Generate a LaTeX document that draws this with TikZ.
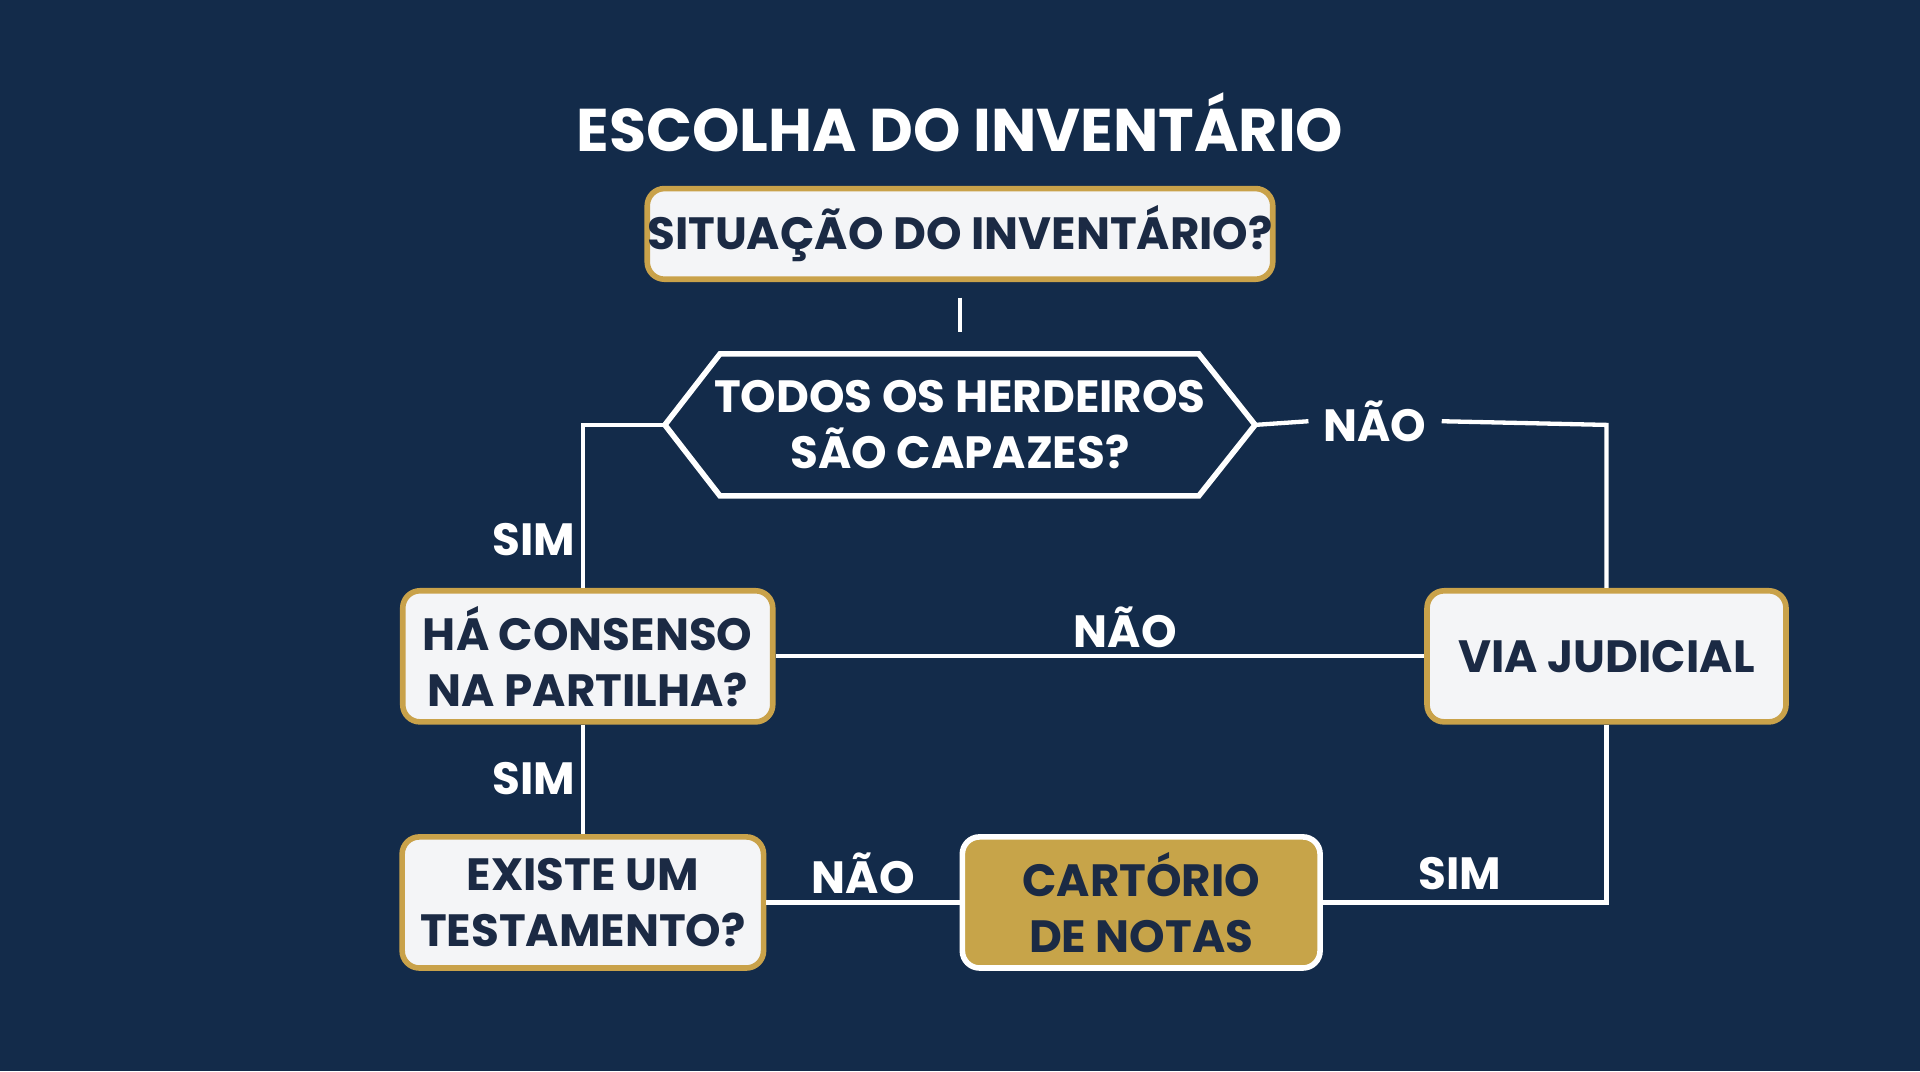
\documentclass[tikz,border=0pt]{standalone}
\usepackage{fontspec}
\setmainfont{Poppins}[UprightFont=* Bold]
\usetikzlibrary{positioning}
\definecolor{navy}{HTML}{132B4A}
\definecolor{gold}{HTML}{C9A24A}
\definecolor{boxfill}{HTML}{F4F5F7}
\definecolor{ink}{HTML}{1B2A44}
\definecolor{cartfill}{HTML}{C7A449}
\tikzset{
  box/.style={draw=gold, line width=1.3pt, fill=boxfill, rounded corners=4pt,
    text=ink, font=\fontsize{10.5}{13}\selectfont, align=center, inner sep=0pt},
  link/.style={draw=white, line width=1pt},
  lbl/.style={text=white, font=\fontsize{10.5}{13}\selectfont}
}
\begin{document}
\begin{tikzpicture}[x=0.01cm, y=-0.01cm]
\fill[navy] (0,0) rectangle (1568,875);
\useasboundingbox (0,0) rectangle (1568,875);
\node[text=white, font=\fontsize{14}{16}\selectfont] (title) at (784,100) {ESCOLHA DO INVENTÁRIO};
\node[box, minimum width=4.98cm, minimum height=0.74cm] (sit) at (784,191) {SITUAÇÃO DO INVENTÁRIO?};
\coordinate (t1) at (784,243);
\coordinate (t2) at (784,271);
\draw[link] (t1) -- (t2);
% decision hexagon
\draw[link, line width=1.3pt] (543,347) -- (588,289) -- (979,289) -- (1025,347) -- (979,405) -- (588,405) -- cycle;
\coordinate (hexL) at (543,347);
\coordinate (hexR) at (1025,347);
\node[text=white, font=\fontsize{10.5}{13}\selectfont, align=center] (cap) at (784,347) {TODOS OS HERDEIROS\\SÃO CAPAZES?};
\node[box, minimum width=3.02cm, minimum height=1.07cm] (hac) at (480,536) {HÁ CONSENSO\\NA PARTILHA?};
\node[box, minimum width=2.93cm, minimum height=1.07cm] (via) at (1312,536) {VIA JUDICIAL};
\node[box, minimum width=2.95cm, minimum height=1.07cm] (exi) at (476,737) {EXISTE UM\\TESTAMENTO?};
\node[box, fill=cartfill, draw=white, minimum width=2.92cm, minimum height=1.07cm] (cart) at (932,737) {CARTÓRIO\\DE NOTAS};
% connectors
\draw[link] (hexL) -- (476,347) -- (hac.north -| 476,0);
\node[lbl] (s1) at (436,441) {SIM};
\draw[link] (hac.south -| 476,0) -- (exi.north);
\node[lbl] (s2) at (436,636) {SIM};
\draw[link] (hac) -- (via);
\node[lbl] (n1) at (919,512) {NÃO};
\node[lbl] (n2) at (1123,344) {NÃO};
\draw[link] (hexR) -- (n2.west);
\draw[link] (n2.east) -- (1312,347) -- (via.north);
\draw[link] (exi) -- (cart);
\node[lbl] (n3) at (705,713) {NÃO};
\draw[link] (via.south) -- (1312,737) -- (cart.east);
\node[lbl] (s3) at (1192,713) {SIM};
\end{tikzpicture}
\end{document}
